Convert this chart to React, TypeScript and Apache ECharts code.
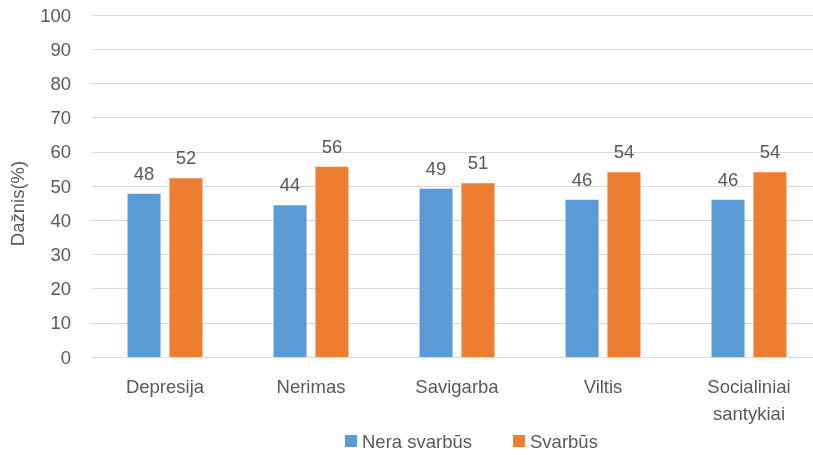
import React, { useEffect, useRef } from "react";
import * as echarts from "echarts";

const categories = ["Depresija", "Nerimas", "Savigarba", "Viltis", "Socialiniai\nsantykiai"];
const seriesNames = ["Nera svarbūs", "Svarbūs"];
const neraSvarbus = [47.7, 44.4, 49.2, 46.0, 46.0];
const svarbus = [52.3, 55.6, 50.8, 54.0, 54.0];
const yTitle = "Dažnis(%)";

const FONT = "'Liberation Sans', Arial, sans-serif";
const TXT = "#595959";

export default function App() {
  const ref = useRef<HTMLDivElement>(null);
  useEffect(() => {
    if (!ref.current) return;
    const chart = echarts.init(ref.current, undefined, { renderer: "svg" });
    const label = {
      show: true,
      position: "top" as const,
      distance: 11,
      color: TXT,
      fontFamily: FONT,
      fontSize: 18.5,
      formatter: (p: any) => String(Math.round(p.value)),
    };
    chart.setOption({
      animation: false,
      textStyle: { fontFamily: FONT },
      grid: {
        left: 92,
        width: 730,
        top: 15,
        bottom: 98,
        containLabel: false,
        outerBoundsMode: "none",
      },
      legend: {
        data: seriesNames,
        left: 345,
        top: 430,
        padding: 0,
        itemWidth: 12,
        itemHeight: 12,
        itemGap: 41,
        icon: "rect",
        textStyle: { color: TXT, fontFamily: FONT, fontSize: 18.5, lineHeight: 22 },
      },
      xAxis: {
        type: "category",
        data: categories,
        axisLine: { show: true, lineStyle: { color: "#D9D9D9", width: 1 } },
        axisTick: { show: false },
        axisLabel: {
          color: TXT,
          fontFamily: FONT,
          fontSize: 18.5,
          margin: 16,
          lineHeight: 27,
          interval: 0,
        },
      },
      yAxis: {
        type: "value",
        min: 0,
        max: 100,
        interval: 10,
        axisLine: { show: false },
        axisTick: { show: false },
        splitLine: { lineStyle: { color: "#D9D9D9", width: 1 } },
        axisLabel: { color: TXT, fontFamily: FONT, fontSize: 18.5, margin: 21 },
      },
      graphic: [
        {
          type: "text",
          x: 17.5,
          y: 203.5,
          rotation: Math.PI / 2,
          style: {
            text: yTitle,
            fill: TXT,
            font: `18.5px ${FONT}`,
            textAlign: "center",
            textVerticalAlign: "middle",
          },
        },
      ],
      series: [
        {
          name: seriesNames[0],
          type: "bar",
          data: neraSvarbus,
          barWidth: 33,
          barGap: "27%",
          itemStyle: { color: "#5B9BD5" },
          label,
        },
        {
          name: seriesNames[1],
          type: "bar",
          data: svarbus,
          barWidth: 33,
          barGap: "27%",
          itemStyle: { color: "#ED7D31" },
          label,
        },
      ],
    });
    return () => chart.dispose();
  }, []);
  return (
    <div
      ref={ref}
      style={{ position: "fixed", left: 0, top: 0, width: 813, height: 455, overflow: "hidden" }}
    />
  );
}
